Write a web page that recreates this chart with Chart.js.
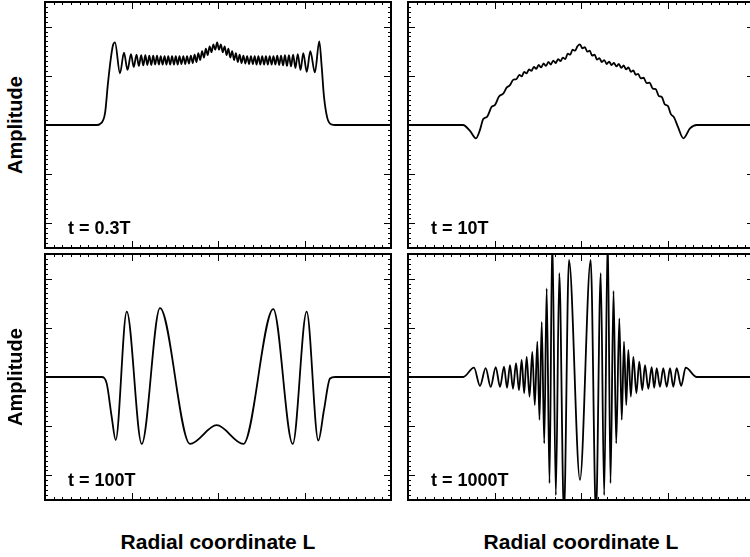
<!DOCTYPE html>
<html><head><meta charset="utf-8">
<script src="https://cdn.jsdelivr.net/npm/chart.js@4.4.1/dist/chart.umd.min.js"></script>
<style>
html,body{margin:0;padding:0;background:#fff;width:750px;height:557px;overflow:hidden;position:relative;font-family:"Liberation Sans",Arial,Helvetica,sans-serif;font-weight:bold;color:#000}
canvas{position:absolute}
.lab{position:absolute;white-space:nowrap;line-height:1}
.amp{font-size:20px;transform:translate(-50%,-50%) rotate(-90deg)}
.xt{font-size:21px;transform:translateX(-50%)}
.tl{font-size:18px}
</style></head><body>
<script>
// ---- data (x: radial coordinate L, axis 0..40; y: amplitude, axis -2.5..2.5) ----
const p1X = [0,6.0,6.36,6.94,7.28,7.63,7.86,8.09,8.67,9.13,9.54,9.94,10.26,10.58,10.85,11.12,11.36,11.60,11.83,12.06,12.29,12.51,12.73,12.95,13.17,13.38,13.60,13.82,14.04,14.25,14.47,14.69,14.91,15.12,15.34,15.55,15.77,15.99,16.21,16.42,16.64,16.86,17.08,17.29,17.51,17.72,17.94,18.16,18.38,18.59,18.81,19.03,19.25,19.46,19.68,19.90,20.12,20.33,20.55,20.77,20.99,21.20,21.42,21.64,21.86,22.07,22.29,22.50,22.72,22.94,23.16,23.37,23.59,23.81,24.03,24.24,24.46,24.67,24.89,25.11,25.33,25.54,25.76,25.98,26.20,26.41,26.63,26.85,27.07,27.29,27.52,27.74,27.97,28.20,28.44,28.68,28.95,29.22,29.54,29.86,30.26,30.67,31.20,31.71,31.99,32.25,32.64,33.14,33.53,40];
const p1Y = [0,0,0.02,0.24,0.85,1.38,1.62,1.68,1.05,1.47,1.12,1.44,1.18,1.43,1.20,1.42,1.21,1.42,1.22,1.41,1.22,1.41,1.23,1.41,1.23,1.40,1.23,1.40,1.23,1.40,1.23,1.40,1.23,1.40,1.23,1.40,1.24,1.40,1.24,1.40,1.25,1.41,1.26,1.43,1.28,1.46,1.32,1.50,1.37,1.55,1.42,1.60,1.48,1.64,1.53,1.68,1.53,1.64,1.48,1.60,1.42,1.55,1.37,1.50,1.32,1.46,1.28,1.43,1.26,1.41,1.25,1.40,1.24,1.40,1.24,1.40,1.23,1.40,1.23,1.40,1.23,1.40,1.23,1.40,1.23,1.40,1.23,1.41,1.22,1.41,1.21,1.42,1.20,1.42,1.19,1.43,1.16,1.44,1.12,1.46,1.08,1.50,1.07,1.70,1.18,0.58,0.14,0.01,0,0];

const p2X = [0,6.36,7.17,7.86,8.32,8.70,9.16,9.67,10.06,10.52,11.02,11.40,11.79,12.17,12.52,12.87,13.15,13.43,13.71,13.99,14.27,14.55,14.83,15.11,15.39,15.67,15.95,16.23,16.51,16.79,17.07,17.35,17.63,17.91,18.19,18.47,18.75,19.03,19.31,19.59,19.88,20.17,20.45,20.73,21.01,21.29,21.57,21.85,22.13,22.41,22.69,22.97,23.25,23.53,23.81,24.09,24.37,24.65,24.93,25.21,25.49,25.77,26.05,26.33,26.61,26.89,27.24,27.59,27.94,28.29,28.64,28.99,29.34,29.69,30.04,30.39,30.74,31.21,31.83,32.60,33.38,40];
const p2Y = [0,0,-0.12,-0.27,-0.10,0.12,0.17,0.37,0.41,0.58,0.64,0.76,0.81,0.92,0.93,1.02,0.99,1.08,1.05,1.13,1.10,1.18,1.14,1.22,1.17,1.25,1.20,1.28,1.23,1.31,1.26,1.34,1.30,1.37,1.34,1.45,1.43,1.53,1.51,1.60,1.64,1.56,1.58,1.49,1.51,1.41,1.43,1.33,1.36,1.28,1.32,1.24,1.29,1.22,1.26,1.19,1.24,1.16,1.21,1.13,1.17,1.08,1.11,1.02,1.04,0.95,0.96,0.85,0.86,0.74,0.73,0.59,0.57,0.42,0.39,0.22,0.16,-0.04,-0.27,-0.07,0,0];

const p3X = [0,6.55,7.13,7.71,8.17,9.45,11.18,13.29,16.76,19.85,22.93,26.39,28.64,30.25,31.60,32.25,32.95,33.53,40];
const p3Y = [0,0,-0.13,-0.81,-1.28,1.33,-1.36,1.40,-1.36,-0.98,-1.36,1.38,-1.36,1.33,-1.29,-0.67,-0.03,0,0];

const p4X = [0,6.39,7.63,8.32,8.98,9.56,10.14,10.64,11.10,11.45,11.79,12.14,12.49,12.83,13.14,13.43,13.72,14.05,14.37,14.66,14.95,15.20,15.46,15.75,16.03,16.36,16.68,17.09,17.49,18.03,18.61,19.88,21.12,21.73,22.28,22.68,23.09,23.41,23.76,24.07,24.43,24.71,24.97,25.23,25.47,25.76,26.05,26.40,26.74,27.08,27.40,27.78,28.17,28.46,28.75,29.13,29.51,29.91,30.29,30.67,31.06,31.58,32.10,33.38,40];
const p4Y = [0,0,0.19,-0.18,0.18,-0.20,0.20,-0.20,0.21,-0.22,0.24,-0.24,0.28,-0.27,0.35,-0.33,0.41,-0.40,0.51,-0.57,0.72,-0.87,1.12,-1.35,1.80,-2.16,2.90,-2.40,2.11,-2.80,2.38,-2.09,2.38,-2.80,2.11,-2.40,2.90,-2.16,1.75,-1.35,1.19,-0.87,0.72,-0.57,0.55,-0.40,0.41,-0.33,0.31,-0.27,0.24,-0.24,0.20,-0.22,0.18,-0.20,0.18,-0.20,0.18,-0.20,0.18,-0.18,0.19,0,0];

const panelLabels = ["t = 0.3T", "t = 10T", "t = 100T", "t = 1000T"];
const yTitle = "Amplitude";
const xTitle = "Radial coordinate L";
const xMin = 0, xMax = 40, xMajorEvery = 10;      // minor tick every 1 unit
const yMin = -2.5, yMax = 2.5;                     // minor tick every 0.1, major every 1

// ---- layout ----
const series = [[p1X, p1Y], [p2X, p2Y], [p3X, p3Y], [p4X, p4Y]];
const boxes = [[45, 2], [408, 2], [45, 254], [408, 254]];
const W = 346, H = 246, PAD = 6;

const framePlugin = {
  id: 'frame',
  afterDatasetsDraw(chart) {
    const { ctx, chartArea: a, scales } = chart;
    const sx = scales.x, sy = scales.y;
    ctx.save();
    ctx.strokeStyle = '#000';
    ctx.lineWidth = 1;
    ctx.beginPath();
    for (let k = xMin; k <= xMax; k++) {
      const len = (k % xMajorEvery === 0) ? 7 : 3;
      const px = Math.round(sx.getPixelForValue(k)) + 0.5;
      ctx.moveTo(px, a.bottom); ctx.lineTo(px, a.bottom - len);
      ctx.moveTo(px, a.top); ctx.lineTo(px, a.top + len);
    }
    for (let k = Math.round(yMin * 10); k <= Math.round(yMax * 10); k++) {
      const len = (k % 10 === 0) ? 7 : 3;
      const py = Math.round(sy.getPixelForValue(k / 10)) + 0.5;
      ctx.moveTo(a.left, py); ctx.lineTo(a.left + len, py);
      ctx.moveTo(a.right, py); ctx.lineTo(a.right - len, py);
    }
    ctx.stroke();
    ctx.lineWidth = 2;
    ctx.strokeRect(a.left, a.top, a.right - a.left, a.bottom - a.top);
    ctx.restore();
  }
};

series.forEach((s, i) => {
  const c = document.createElement('canvas');
  c.width = W + 2 * PAD; c.height = H + 2 * PAD;
  c.style.width = c.width + 'px'; c.style.height = c.height + 'px';
  c.style.left = (boxes[i][0] - PAD) + 'px'; c.style.top = (boxes[i][1] - PAD) + 'px';
  document.body.appendChild(c);
  new Chart(c, {
    type: 'line',
    data: { datasets: [{
      data: s[0].map((x, j) => ({ x: x, y: s[1][j] })),
      borderColor: '#000', borderWidth: 1.8, pointRadius: 0,
      cubicInterpolationMode: 'monotone', fill: false
    }] },
    options: {
      responsive: false, animation: false, devicePixelRatio: 1, events: [],
      layout: { padding: PAD },
      plugins: { legend: { display: false }, tooltip: { enabled: false } },
      scales: {
        x: { type: 'linear', min: xMin, max: xMax, display: false },
        y: { type: 'linear', min: yMin, max: yMax, display: false }
      }
    },
    plugins: [framePlugin]
  });

  const t = document.createElement('div');
  t.className = 'lab tl';
  t.textContent = panelLabels[i];
  t.style.left = (boxes[i][0] + 23) + 'px';
  t.style.top = (boxes[i][1] + 216.5) + 'px';
  document.body.appendChild(t);

  if (i % 2 === 0) {
    const a = document.createElement('div');
    a.className = 'lab amp';
    a.textContent = yTitle;
    a.style.left = '15px';
    a.style.top = (boxes[i][1] + H / 2) + 'px';
    document.body.appendChild(a);
  }
  if (i >= 2) {
    const xl = document.createElement('div');
    xl.className = 'lab xt';
    xl.textContent = xTitle;
    xl.style.left = (boxes[i][0] + 173) + 'px';
    xl.style.top = '531px';
    document.body.appendChild(xl);
  }
});
</script>
</body></html>
